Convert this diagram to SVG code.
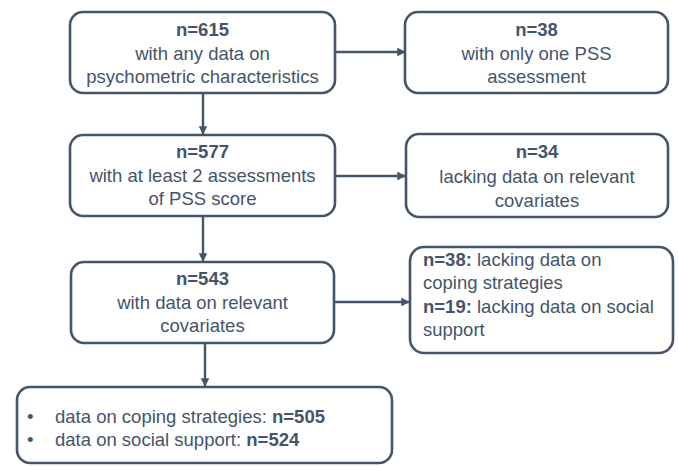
<svg xmlns="http://www.w3.org/2000/svg" width="678" height="466" viewBox="0 0 678 466">
<defs>
<style>
.box{fill:#ffffff;stroke:#44546a;stroke-width:2.6}
.t{font-family:"Liberation Sans",Arial,sans-serif;font-size:18.5px;fill:#44546a}
.c{text-anchor:middle}
.b{font-weight:bold}
.ln{stroke:#44546a;stroke-width:2.4;fill:none;marker-end:url(#ah)}
</style>
<marker id="ah" viewBox="0 0 10 10" refX="9" refY="5" markerWidth="3.6" markerHeight="3.6" orient="auto" markerUnits="strokeWidth">
<path d="M0,0 L10,5 L0,10 z" fill="#44546a"/>
</marker>
</defs>
<rect width="678" height="466" fill="#ffffff"/>
<g id="connectors">
<line class="ln" x1="335" y1="52" x2="405" y2="52"/>
<line class="ln" x1="203" y1="93" x2="203" y2="134"/>
<line class="ln" x1="335" y1="176" x2="405" y2="176"/>
<line class="ln" x1="203" y1="216" x2="203" y2="261"/>
<line class="ln" x1="333" y1="302" x2="409" y2="302"/>
<line class="ln" x1="205" y1="343" x2="205" y2="386"/>
</g>
<g id="n615">
<rect class="box" x="70" y="12" width="265" height="81" rx="13"/>
<text class="t c b" x="202.5" y="36">n=615</text>
<text class="t c" x="202.5" y="60">with any data on</text>
<text class="t c" x="202.5" y="83">psychometric characteristics</text>
</g>
<g id="n38a">
<rect class="box" x="405" y="12" width="263" height="81" rx="13"/>
<text class="t c b" x="536.5" y="36">n=38</text>
<text class="t c" x="536.5" y="60">with only one PSS</text>
<text class="t c" x="536.5" y="83">assessment</text>
</g>
<g id="n577">
<rect class="box" x="70" y="135" width="265" height="81" rx="13"/>
<text class="t c b" x="202.5" y="158">n=577</text>
<text class="t c" x="202.5" y="182">with at least 2 assessments</text>
<text class="t c" x="202.5" y="205">of PSS score</text>
</g>
<g id="n34">
<rect class="box" x="406" y="134" width="262" height="83" rx="13"/>
<text class="t c b" x="537" y="158">n=34</text>
<text class="t c" x="537" y="183">lacking data on relevant</text>
<text class="t c" x="537" y="207">covariates</text>
</g>
<g id="n543">
<rect class="box" x="71" y="262" width="263" height="81" rx="13"/>
<text class="t c b" x="202.5" y="285">n=543</text>
<text class="t c" x="202.5" y="309">with data on relevant</text>
<text class="t c" x="202.5" y="332">covariates</text>
</g>
<g id="excluded">
<rect class="box" x="410" y="247" width="263" height="106" rx="14"/>
<text class="t" x="423" y="266"><tspan class="b">n=38:</tspan> lacking data on</text>
<text class="t" x="423" y="289">coping strategies</text>
<text class="t" x="423" y="313"><tspan class="b">n=19:</tspan> lacking data on social</text>
<text class="t" x="423" y="336">support</text>
</g>
<g id="final">
<rect class="box" x="17" y="387" width="375" height="76" rx="13"/>
<text class="t" x="27" y="423">•</text>
<text class="t" x="55" y="423">data on coping strategies: <tspan class="b">n=505</tspan></text>
<text class="t" x="27" y="446">•</text>
<text class="t" x="55" y="446">data on social support: <tspan class="b">n=524</tspan></text>
</g>
</svg>
